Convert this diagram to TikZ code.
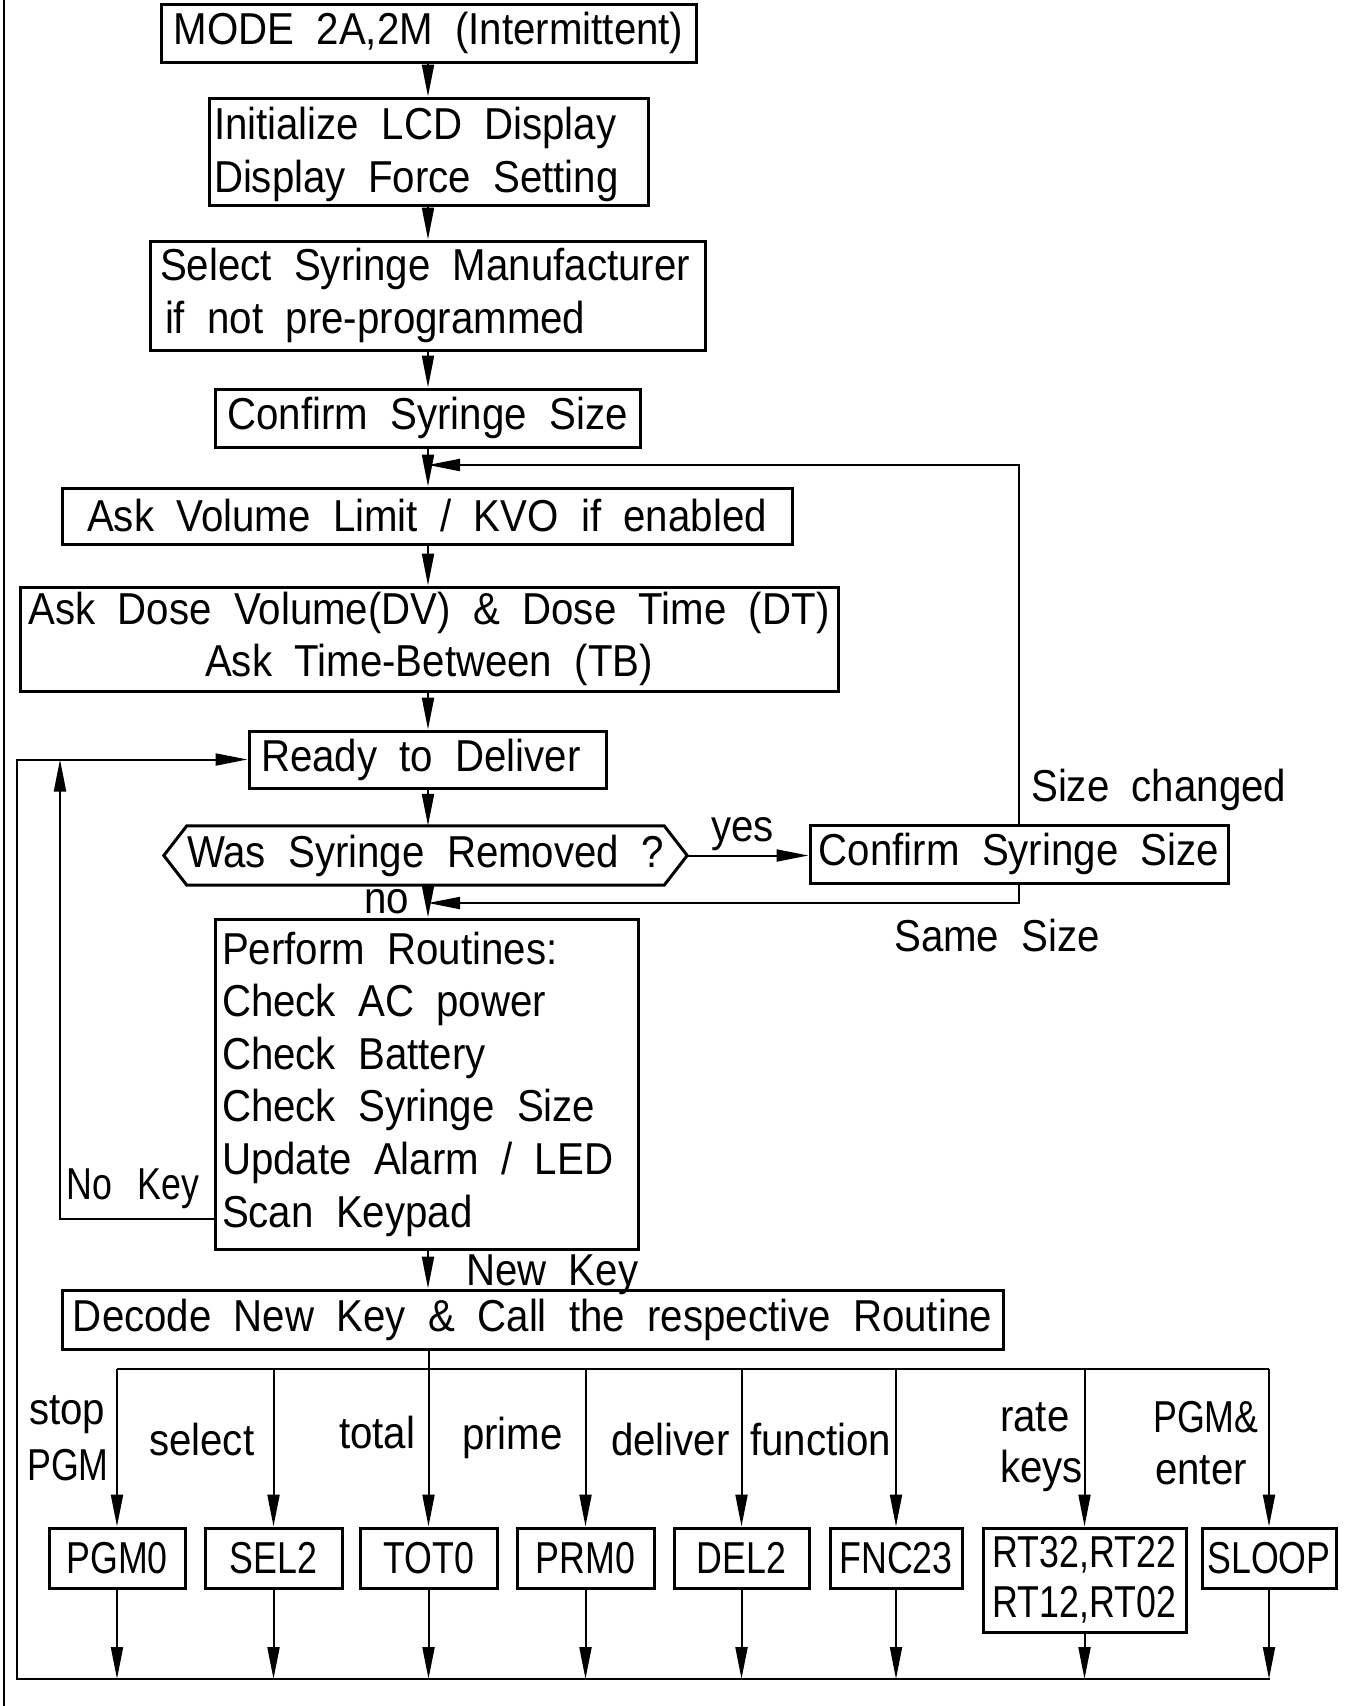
\documentclass[tikz,border=0pt]{standalone}
\usepackage{fontspec}
\usepackage{graphicx}
\setmainfont{Liberation Sans}[FakeStretch=0.9, WordSpace=2]
\newfontfamily\narrowfont{Liberation Sans}[FakeStretch=0.8, WordSpace=2]
\usetikzlibrary{arrows.meta,calc}
\newcommand{\cadfont}{\fontsize{44.7}{52.6}\selectfont}
\newcommand{\cadnarrow}{\narrowfont\fontsize{44.7}{50}\selectfont}
\begin{document}
\begin{tikzpicture}[x=1pt,y=-1pt,
  box/.style={draw, line width=3pt, inner sep=0pt, font=\cadfont, align=flush center},
  rbox/.style={draw, line width=3pt, inner sep=0pt, font=\cadnarrow, align=flush center},
  lbox/.style={draw, line width=3pt, inner ysep=0pt, font=\cadfont, align=flush left},
  conn/.style={line width=2pt},
  arr/.style={line width=2pt, -{Triangle[length=32pt,width=12pt]}},
  lbl/.style={inner sep=0pt, font=\cadfont, anchor=base west},
  nlbl/.style={inner sep=0pt, font=\cadnarrow, anchor=base west}]
\useasboundingbox (0,0) rectangle (1351,1706);
\fill[white] (0,0) rectangle (1351,1706);
\draw[line width=2.5pt] (4,0) -- (4,1706);

% main column
\node[box, minimum width=535pt, minimum height=58pt] (mode) at (428.5,33) {MODE 2A,2M (Intermittent)};
\node[lbox, inner xsep=5pt, text width=429pt, minimum height=107pt] (init) at (428.5,151.5) {\rule{0pt}{38pt}Initialize LCD Display\\Display Force Setting};
\node[lbox, inner xsep=10pt, text width=535pt, minimum height=109pt] (select) at (427.5,295.5) {Select Syringe Manufacturer\\\hspace*{5pt}if not pre-programmed};
\node[box, minimum width=425pt, minimum height=58pt] (confirm1) at (427.5,418) {Confirm Syringe Size};
\node[box, minimum width=730pt, minimum height=56pt] (askvol) at (427,516) {Ask Volume Limit / KVO if enabled};
\node[box, minimum width=818pt, minimum height=104pt] (askdose) at (429,639) {Ask Dose Volume(DV) \& Dose Time (DT)\\Ask Time-Between (TB)};
\node[lbox, inner xsep=12pt, text width=333pt, minimum height=57pt] (ready) at (427.5,759.5) {Ready to Deliver};
\node[inner sep=0pt, font=\cadfont, minimum width=477pt, minimum height=59pt] (was) at (425.5,855.5) {Was Syringe Removed ?};
\node[box, minimum width=418pt, minimum height=58pt] (confirm2) at (1019,854) {Confirm Syringe Size};
\node[lbox, inner xsep=7pt, text width=409pt, minimum height=330pt] (perform) at (426.5,1084) {Perform Routines:\\Check AC power\\Check Battery\\Check Syringe Size\\Update Alarm / LED\\Scan Keypad};
\node[box, minimum width=941pt, minimum height=59pt] (decode) at (532.5,1319.5) {Decode New Key \& Call the respective Routine};

% routine boxes
\node[rbox, minimum width=136pt, minimum height=60pt] (pgm0) at (117,1558) {PGM0};
\node[rbox, minimum width=137pt, minimum height=60pt] (sel2) at (273.5,1558) {SEL2};
\node[rbox, minimum width=137pt, minimum height=60pt] (tot0) at (428.5,1558) {TOT0};
\node[rbox, minimum width=137pt, minimum height=60pt] (prm0) at (585.5,1558) {PRM0};
\node[rbox, minimum width=135pt, minimum height=60pt] (del2) at (741.5,1558) {DEL2};
\node[rbox, minimum width=132pt, minimum height=60pt] (fnc23) at (896,1558) {FNC23};
\node[rbox, minimum width=203pt, minimum height=104pt] (rt) at (1084.5,1580) {RT32,RT22\\RT12,RT02};
\node[rbox, minimum width=134pt, minimum height=60pt] (sloop) at (1269,1558) {SLOOP};

% hexagon outline of the decision
\coordinate (wastip) at ($(was.east)+(23,0)$);
\coordinate (wastipL) at ($(was.west)+(-23,0)$);
\draw[line width=3pt, line join=miter] (was.north west) -- (was.north east) -- (wastip) -- (was.south east) -- (was.south west) -- (wastipL) -- cycle;

% main axis
\coordinate (ax) at (428,0);
\draw[arr] (mode.south -| ax) -- (init.north -| ax);
\draw[arr] (init.south -| ax) -- (select.north -| ax);
\draw[arr] (select.south -| ax) -- (confirm1.north -| ax);
\draw[arr] (confirm1.south -| ax) -- (askvol.north -| ax);
\draw[arr] (askvol.south -| ax) -- (askdose.north -| ax);
\draw[arr] (askdose.south -| ax) -- (ready.north -| ax);
\draw[arr] (ready.south -| ax) -- (was.north -| ax);
\draw[arr] (was.south -| ax) -- (perform.north -| ax);
\draw[arr] (perform.south -| ax) -- (decode.north -| ax);

% feedback loops
\coordinate (fb1) at (428,465);
\coordinate (fb2) at (428,903);
\draw[arr] (confirm2.north) |- (fb1);
\draw[arr] (confirm2.south) |- (fb2);
\draw[arr] (wastip) -- (wastip -| confirm2.west);

\coordinate (bbL) at (17,1679);
\coordinate (bbR) at (1270,1679);
\draw[arr] (bbR) -- (bbL) |- (ready.west);
\coordinate (nk) at (60,1219);
\draw[arr] (perform.west |- nk) -- (nk) -- (nk |- ready.west);

% dispatch bus
\coordinate (bt) at (0,1369);
\draw[conn] (pgm0.north |- bt) -- (sloop.north |- bt);
\draw[conn] (tot0.north |- decode.south) -- (tot0.north |- bt);
\foreach \n in {pgm0,sel2,tot0,prm0,del2,fnc23,rt,sloop} {
  \draw[arr] (\n.north |- bt) -- (\n.north);
  \draw[arr] (\n.south) -- (\n.south |- bbL);
}

% labels
\node[lbl] (lsize) at (1031,801) {Size changed};
\node[lbl] (lyes) at (711,841) {yes};
\node[lbl] (lno) at (364,913) {no};
\node[lbl] (lsame) at (894,951) {Same Size};
\node[nlbl] (lnokey) at (66,1199) {No\hspace{6pt} Key};
\node[lbl] (lnewkey) at (466,1285) {New Key};
\node[lbl] (lstop) at (29,1424) {stop};
\node[nlbl] (lpgm) at (27,1480) {PGM};
\node[lbl] (lselect) at (149,1455) {select};
\node[lbl] (ltotal) at (339,1448) {total};
\node[lbl] (lprime) at (462,1449) {prime};
\node[lbl] (ldeliver) at (611,1455) {deliver};
\node[lbl] (lfunction) at (750,1455) {function};
\node[lbl] (lrate) at (1000,1431) {rate};
\node[lbl] (lkeys) at (1000,1482) {keys};
\node[nlbl] (lpgmand) at (1153,1432) {PGM\&};
\node[lbl] (lenter) at (1155,1484) {enter};
\end{tikzpicture}
\end{document}
